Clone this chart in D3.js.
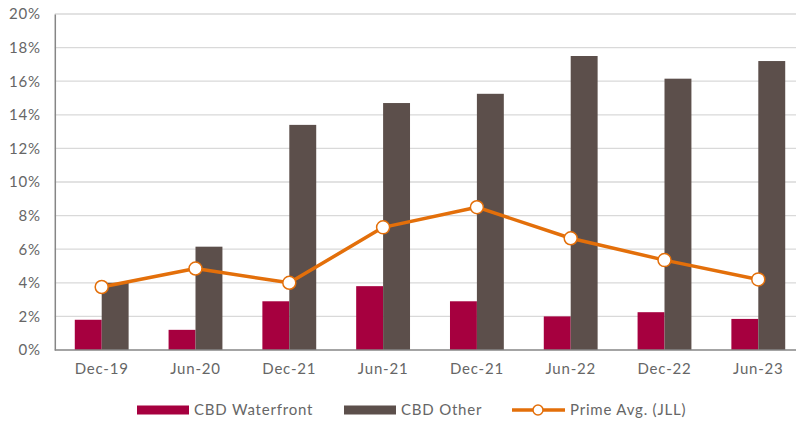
<!DOCTYPE html>
<html>
<head>
<meta charset="utf-8">
<script src="https://cdn.jsdelivr.net/npm/d3@7"></script>
<style>
  body { margin: 0; background: #fff; }
  text { font-family: "Lato", "DejaVu Sans", sans-serif; fill: #666666; letter-spacing: 0.8px; }
</style>
</head>
<body>
<div id="chart"></div>
<script>
// Data
var periods = ["Dec-19", "Jun-20", "Dec-21", "Jun-21", "Dec-21 ", "Jun-22", "Dec-22", "Jun-23"];
var waterfront = [1.8, 1.2, 2.9, 3.8, 2.9, 2.0, 2.25, 1.85];
var other = [4.0, 6.15, 13.4, 14.7, 15.25, 17.5, 16.15, 17.2];
var primeAvg = [3.75, 4.85, 4.0, 7.3, 8.5, 6.65, 5.35, 4.2];
var yTicks = [0, 2, 4, 6, 8, 10, 12, 14, 16, 18, 20];
var seriesNames = ["CBD Waterfront", "CBD Other", "Prime Avg. (JLL)"];
var barColors = ["#A6003F", "#5C4F4B"];
var lineColor = "#E36F0A";

var W = 796, H = 421;
var plotLeft = 54.8, plotRight = 805.2, plotTop = 14, plotBottom = 350;

var svg = d3.select("#chart").append("svg")
    .attr("width", W)
    .attr("height", H);

// Scales
var x0 = d3.scaleBand()
    .domain(periods)
    .range([plotLeft, plotRight])
    .paddingInner(0.426)
    .paddingOuter(0.213);
var x1 = d3.scaleBand()
    .domain([0, 1])
    .range([0, x0.bandwidth()]);
var y = d3.scaleLinear()
    .domain([0, 20])
    .range([plotBottom, plotTop]);

// Gridlines
svg.append("g")
    .selectAll("line")
    .data(yTicks.slice(1))
    .enter().append("line")
    .attr("x1", plotLeft)
    .attr("x2", W)
    .attr("y1", function(d) { return y(d); })
    .attr("y2", function(d) { return y(d); })
    .attr("stroke", "#D9D9D9")
    .attr("stroke-width", 1.3);

// Y axis labels
var yAxis = svg.append("g")
    .attr("transform", "translate(" + plotLeft + ",0)")
    .call(d3.axisLeft(y).tickValues(yTicks).tickSize(0).tickPadding(14)
        .tickFormat(function(d) { return d + "%"; }));
yAxis.select(".domain").attr("stroke", "#868686").attr("stroke-width", 1.5);
yAxis.selectAll("text").attr("font-size", 15).style("font-family", null);

// Bars
var groups = svg.append("g")
    .selectAll("g")
    .data(periods)
    .enter().append("g")
    .attr("transform", function(d) { return "translate(" + x0(d) + ",0)"; });

groups.selectAll("rect")
    .data(function(d, i) { return [waterfront[i], other[i]]; })
    .enter().append("rect")
    .attr("x", function(d, j) { return x1(j); })
    .attr("width", x1.bandwidth())
    .attr("y", function(d) { return y(d); })
    .attr("height", function(d) { return plotBottom - y(d); })
    .attr("fill", function(d, j) { return barColors[j]; });

// X axis
var xAxis = svg.append("g")
    .attr("transform", "translate(0," + plotBottom + ")")
    .call(d3.axisBottom(x0).tickSize(0).tickPadding(13));
xAxis.select(".domain").attr("stroke", "#868686").attr("stroke-width", 1.5)
    .attr("d", "M" + plotLeft + ",0H" + W);
xAxis.selectAll("text").attr("font-size", 15).style("font-family", null)
    .text(function(d) { return d.trim(); });

// Prime average line
var line = d3.line()
    .x(function(d, i) { return x0(periods[i]) + x0.bandwidth() / 2; })
    .y(function(d) { return y(d); });

svg.append("path")
    .datum(primeAvg)
    .attr("fill", "none")
    .attr("stroke", lineColor)
    .attr("stroke-width", 3.5)
    .attr("stroke-linejoin", "round")
    .attr("d", line);

svg.selectAll(".dot")
    .data(primeAvg)
    .enter().append("circle")
    .attr("class", "dot")
    .attr("cx", function(d, i) { return x0(periods[i]) + x0.bandwidth() / 2; })
    .attr("cy", function(d) { return y(d); })
    .attr("r", 6.5)
    .attr("fill", "#fff")
    .attr("stroke", lineColor)
    .attr("stroke-width", 1.5);

// Legend
var legend = svg.append("g").attr("transform", "translate(0,410)");
legend.append("rect").attr("x", 137).attr("y", -4.5).attr("width", 52).attr("height", 9).attr("fill", barColors[0]);
legend.append("text").attr("x", 194).attr("dy", "0.35em").attr("font-size", 15).text(seriesNames[0]);
legend.append("rect").attr("x", 344).attr("y", -4.5).attr("width", 52).attr("height", 9).attr("fill", barColors[1]);
legend.append("text").attr("x", 401).attr("dy", "0.35em").attr("font-size", 15).text(seriesNames[1]);
legend.append("line").attr("x1", 512).attr("x2", 565).attr("stroke", lineColor).attr("stroke-width", 3.5);
legend.append("circle").attr("cx", 538).attr("r", 5).attr("fill", "#fff").attr("stroke", lineColor).attr("stroke-width", 1.5);
legend.append("text").attr("x", 570).attr("dy", "0.35em").attr("font-size", 15).text(seriesNames[2]);
</script>
</body>
</html>
